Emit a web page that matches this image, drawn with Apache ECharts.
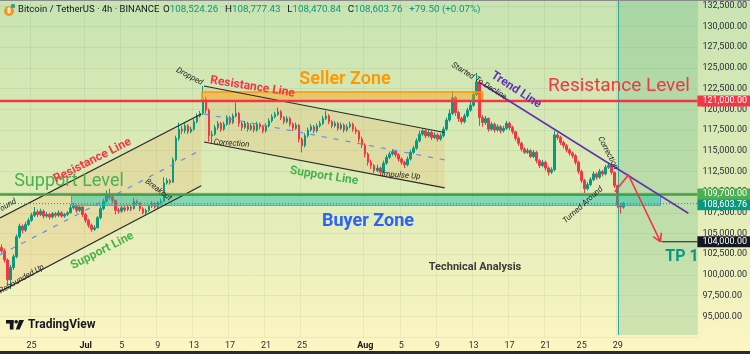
<!DOCTYPE html>
<html>
<head>
<meta charset="utf-8">
<title>Bitcoin / TetherUS 4h</title>
<script src="https://cdn.jsdelivr.net/npm/echarts@6/dist/echarts.min.js"></script>
<style>
html, body { margin: 0; padding: 0; }
body {
    width: 750px; height: 354px; overflow: hidden;
    background: linear-gradient(to bottom, #c8e4b2 0%, #dfecb7 55%, #fdf6c3 100%);
}
#main { width: 750px; height: 354px; }
</style>
</head>
<body>
<div id="main"></div>
<script type="text/javascript">
// 8h candles, Jun 21 16:00 -> Aug 29, prices in thousands USDT (open = previous close)
var firstOpen = 103.3;
var closes = [
    102.9,101.8,99.4,100.9,102.2,104.6,105.9,105.4,106.1,106.6,
    107.2,107.6,107.3,107.7,107.1,107.3,107.0,107.4,107.2,107.5,
    107.1,107.3,107.5,108.1,108.3,107.8,108.2,107.3,106.6,106.0,
    105.5,105.7,106.9,108.0,108.9,109.6,109.4,109.0,107.8,107.7,
    108.1,107.9,108.2,108.0,108.9,108.7,108.0,107.5,107.8,108.3,
    108.6,108.2,108.7,108.9,111.1,111.4,111.2,113.9,116.5,117.6,
    117.4,118.0,117.3,117.6,118.5,119.2,119.5,121.2,119.9,116.8,
    117.0,117.8,118.3,117.6,118.2,119.0,118.4,119.2,119.5,118.3,
    117.8,118.3,117.6,118.0,117.5,118.2,117.9,117.4,118.0,118.6,
    119.1,119.4,119.7,119.0,118.5,118.9,118.2,117.7,118.1,116.4,
    115.6,116.8,117.5,117.9,117.4,118.0,118.3,118.9,119.2,118.5,
    118.0,118.3,117.7,118.1,117.5,117.9,118.2,117.6,117.3,116.4,
    115.7,114.6,113.6,113.2,112.6,112.9,112.4,113.5,114.2,114.6,
    114.9,114.5,114.0,113.6,113.3,114.0,114.8,115.3,116.2,117.0,
    117.4,116.8,117.2,116.6,116.9,116.4,116.8,117.6,118.7,119.5,
    121.4,119.6,118.9,118.5,119.2,119.9,120.5,121.8,123.3,119.0,
    118.4,118.9,117.6,118.2,117.5,117.9,117.4,117.7,118.3,117.8,
    117.3,116.5,115.9,115.2,114.8,115.0,114.3,114.8,113.8,113.2,
    113.6,112.9,112.4,112.7,116.9,116.6,116.0,115.6,115.1,114.7,
    114.4,113.6,112.5,111.4,110.4,110.9,111.5,112.2,111.8,112.5,
    112.2,113.0,113.2,112.4,110.8,108.4,108.2,108.6
];
var highs = [
    103.7,103.2,102.0,101.2,102.5,104.9,106.2,106.1,106.4,106.9,
    107.5,108.2,107.9,108.0,107.9,107.6,107.5,107.6,107.6,107.8,
    107.7,107.5,107.7,108.5,108.7,108.5,108.4,108.3,107.5,106.8,
    106.2,106.0,107.1,108.3,109.2,110.2,110.4,109.7,109.1,108.1,
    108.4,108.3,108.5,108.4,109.3,109.1,108.8,108.2,108.0,108.5,
    108.9,108.8,108.9,109.2,111.8,111.7,111.6,114.2,116.8,118.4,
    118.0,118.3,118.2,117.9,118.8,119.5,119.8,122.8,121.5,120.1,
    117.4,118.1,118.6,118.5,118.5,119.3,119.2,119.5,120.8,119.7,
    118.5,118.6,118.5,118.3,118.2,118.5,118.4,118.1,118.3,118.9,
    119.4,119.7,120.2,119.9,119.2,119.2,119.1,118.4,118.4,118.2,
    116.6,117.1,117.8,118.2,118.1,118.3,118.6,119.2,119.8,119.4,
    118.7,118.6,118.5,118.4,118.3,118.2,118.5,118.4,117.9,117.5,
    116.7,115.9,114.8,113.9,113.4,113.3,113.1,113.8,114.5,114.9,
    115.2,115.1,114.7,114.2,113.8,114.3,115.1,115.6,116.5,117.4,
    117.7,117.6,117.5,117.4,117.2,117.1,117.1,117.9,119.0,120.0,
    122.2,121.6,119.8,119.1,119.5,120.2,120.9,122.2,124.4,123.6,
    119.3,119.2,119.0,118.5,118.4,118.2,118.1,118.0,118.6,118.5,
    118.0,117.4,116.7,116.1,115.4,115.3,115.2,115.1,115.0,114.0,
    113.9,113.8,113.1,113.0,117.4,117.2,116.8,116.2,115.8,115.3,
    114.9,114.6,113.8,112.7,111.6,111.2,111.8,112.5,112.4,112.8,
    112.7,113.3,113.6,113.4,112.5,110.9,108.7,108.8
];
var lows = [
    102.6,101.5,99.0,98.3,100.6,102.0,104.4,105.0,105.2,105.9,
    106.4,107.0,107.0,107.1,106.8,106.9,106.7,106.8,106.9,107.0,
    106.9,106.9,107.1,107.4,107.9,107.5,107.6,107.0,106.3,105.7,
    105.2,105.3,105.6,106.7,107.8,108.7,109.1,108.6,107.3,107.4,
    107.5,107.6,107.7,107.7,107.9,108.4,107.7,107.3,107.3,107.6,
    108.1,108.0,108.0,108.5,108.8,110.9,110.9,111.1,113.7,116.2,
    117.0,117.1,117.0,117.1,117.4,118.3,119.0,119.3,119.5,116.1,
    115.9,116.8,117.5,117.3,117.4,118.0,118.1,118.2,119.0,117.9,
    117.4,117.6,117.3,117.4,117.2,117.3,117.6,117.1,117.2,117.8,
    118.4,118.9,119.2,118.7,118.2,118.3,117.9,117.4,117.5,116.0,
    114.8,115.4,116.6,117.3,117.1,117.2,117.8,118.1,118.7,118.2,
    117.7,117.8,117.4,117.5,117.2,117.3,117.7,117.3,117.0,116.0,
    115.3,114.2,113.2,112.8,112.3,112.4,112.0,112.3,113.3,114.0,
    114.4,114.2,113.7,113.3,112.9,113.1,113.8,114.6,115.1,116.0,
    116.8,116.5,116.6,116.3,116.4,116.1,116.2,116.6,117.4,118.5,
    119.3,119.2,118.5,118.2,118.3,119.0,119.7,120.3,121.6,118.0,
    117.9,118.1,117.3,117.4,117.2,117.3,117.1,117.2,117.5,117.5,
    117.0,116.2,115.6,114.9,114.6,114.6,114.1,114.1,113.5,112.9,
    113.0,112.6,112.0,112.2,112.5,116.3,115.7,115.3,114.8,114.4,
    114.1,113.3,112.2,111.1,109.9,110.2,110.7,111.3,111.5,111.6,
    111.9,112.0,112.8,112.1,110.5,108.1,107.4,108.0
];

// time axis: 8h slots (chart runs on into empty future slots)
var slotCount = 232;
var tickSlots  = [10, 28, 40, 52, 64, 76, 88, 100, 121, 133, 145, 157, 169, 181, 193, 205];
var tickLabels = ['25', 'Jul', '5', '9', '13', '17', '21', '25', 'Aug', '5', '9', '13', '17', '21', '25', '29'];

// price levels
var resistanceLevel = 121000;
var supportLevel = 109700;
var lastPrice = 108603.76;
var targetPrice = 104000;
var sellerZone = [121000, 122100];
var buyerZone = [108400, 109600];
var yMin = 92500, yMax = 133200, yStep = 2500;

// drawings, as [slot, price]
var risingUpper = [[-0.5, 106870], [66.45, 119430]];
var risingLower = [[-0.5, 97970], [66.45, 110770]];
var risingMid   = [[-0.5, 102420], [66.45, 115100]];
var fallingUpper = [[67.35, 122810], [147.43, 117200]];
var fallingLower = [[67.35, 116050], [147.43, 110500]];
var fallingMid   = [[67.35, 119430], [147.43, 113880]];
var sellerSlots = [66.7, 160.0];
var buyerSlots = [23.3, 219.25];
var trendLine = [[159.35, 123180], [228.5, 107440]];
var projection = [[204.0, 110050], [208.56, 112070], [219.25, 104000]];
var targetFrom = 219.6;
var nowSlot = 205.25;

(function () {
    var FONT = 'Roboto, "Noto Sans", sans-serif';

    function money(v) {
        return v.toLocaleString('en-US', { minimumFractionDigits: 2, maximumFractionDigits: 2 });
    }

    var categories = [];
    for (var i = 0; i < slotCount; i++) categories.push(String(i));

    var candles = closes.map(function (c, i) {
        var o = i ? closes[i - 1] : firstOpen;
        return [o * 1000, c * 1000, lows[i] * 1000, highs[i] * 1000];
    });

    var chart = echarts.init(document.getElementById('main'));
    chart.setOption({
        animation: false,
        grid: { left: 0, right: 49, top: 0, bottom: 17 },
        xAxis: {
            type: 'category',
            data: categories,
            boundaryGap: true,
            axisLine: { show: false },
            axisTick: { show: false },
            axisLabel: {
                interval: function (idx) { return tickSlots.indexOf(idx) >= 0; },
                formatter: function (v, idx) {
                    var t = tickLabels[tickSlots.indexOf(idx)];
                    return (t === 'Jul' || t === 'Aug') ? '{b|' + t + '}' : t;
                },
                color: '#2a2e39', fontSize: 9, fontFamily: FONT, margin: 4,
                rich: { b: { fontWeight: 'bold', fontSize: 9, color: '#131722', fontFamily: FONT } }
            },
            splitLine: {
                show: true,
                interval: function (idx) { return tickSlots.indexOf(idx) >= 0; },
                lineStyle: { color: 'rgba(0,0,0,0.05)', width: 1 }
            }
        },
        yAxis: {
            type: 'value',
            position: 'right',
            min: yMin, max: yMax, interval: yStep,
            axisLine: { show: false },
            axisTick: { show: false },
            axisLabel: {
                showMinLabel: false, showMaxLabel: false,
                color: '#2a2e39', fontSize: 9, fontFamily: FONT, margin: 5,
                formatter: money
            },
            splitLine: { lineStyle: { color: 'rgba(0,0,0,0.05)', width: 1 } }
        },
        series: [{
            type: 'candlestick',
            data: candles,
            barWidth: 2,
            z: 2,
            itemStyle: {
                color: '#089981', color0: '#f23645',
                borderColor: '#089981', borderColor0: '#f23645', borderWidth: 1
            }
        }]
    });

    // drawings on top of the chart, placed through the chart's own axes
    var gx0 = chart.convertToPixel({ xAxisIndex: 0 }, 0);
    var gx1 = chart.convertToPixel({ xAxisIndex: 0 }, slotCount - 1);
    function sx(slot) { return gx0 + slot * (gx1 - gx0) / (slotCount - 1); }
    function py(price) { return chart.convertToPixel({ yAxisIndex: 0 }, price); }
    function P(pt) { return [sx(pt[0]), py(pt[1])]; }

    var gLeft = sx(-0.5), gRight = sx(slotCount - 0.5);
    var gTop = py(yMax), gBottom = py(yMin);

    function poly(points, stroke, width, dash, z) {
        var st = { stroke: stroke, lineWidth: width, fill: 'none' };
        if (dash) st.lineDash = dash;
        return { type: 'polyline', z: z || 4, shape: { points: points.map(P) }, style: st };
    }
    function hline(price, x1, x2, stroke, width, dash) {
        var y = py(price);
        var st = { stroke: stroke, lineWidth: width };
        if (dash) st.lineDash = dash;
        return { type: 'line', z: 4, shape: { x1: x1, y1: y, x2: x2, y2: y }, style: st };
    }
    function note(t, x, y, font, fill, rot) {
        return { type: 'text', z: 6, x: x, y: y, rotation: (rot || 0) * Math.PI / 180,
                 style: { text: t, font: font, fill: fill, align: 'center', verticalAlign: 'middle' } };
    }
    function tag(price, bg, shift) {
        var y = py(price) + (shift || 0);
        return [
            { type: 'rect', z: 10, shape: { x: gRight, y: y - 5.5, width: 750 - gRight, height: 11 }, style: { fill: bg } },
            { type: 'text', z: 11, x: gRight + 5, y: y,
              style: { text: money(price), font: '9px ' + FONT, fill: '#ffffff', verticalAlign: 'middle' } }
        ];
    }

    var els = [];
    // future zone + "now" line
    els.push({ type: 'rect', z: 1, shape: { x: sx(nowSlot), y: gTop, width: gRight - sx(nowSlot), height: gBottom - gTop - 2 },
               style: { fill: 'rgba(60,170,120,0.22)' } });
    els.push({ type: 'line', z: 4, shape: { x1: sx(nowSlot), y1: gTop, x2: sx(nowSlot), y2: gBottom - 2 },
               style: { stroke: '#26a69a', lineWidth: 1 } });

    // channels
    els.push({ type: 'polygon', z: 1, shape: { points: [P(risingUpper[0]), P(risingUpper[1]), P(risingLower[1]), P(risingLower[0])] },
               style: { fill: 'rgba(240,150,60,0.16)' } });
    els.push({ type: 'polygon', z: 1, shape: { points: [P(fallingUpper[0]), P(fallingUpper[1]), P(fallingLower[1]), P(fallingLower[0])] },
               style: { fill: 'rgba(240,150,60,0.16)' } });
    [risingUpper, risingLower, fallingUpper, fallingLower].forEach(function (l) { els.push(poly(l, '#2b2b2b', 1.2)); });
    [risingMid, fallingMid].forEach(function (l) { els.push(poly(l, '#5c8ff0', 1.2, [5, 7])); });

    // zones
    var sTop = py(sellerZone[1]), sBot = py(sellerZone[0]);
    els.push({ type: 'rect', z: 3, shape: { x: sx(sellerSlots[0]), y: sTop, width: sx(sellerSlots[1]) - sx(sellerSlots[0]), height: sBot - sTop },
               style: { fill: 'rgba(255,160,20,0.45)', stroke: '#ff9800', lineWidth: 1.5 } });
    var bTop = py(buyerZone[1]), bBot = py(buyerZone[0]);
    els.push({ type: 'rect', z: 3, shape: { x: sx(buyerSlots[0]), y: bTop, width: sx(buyerSlots[1]) - sx(buyerSlots[0]), height: bBot - bTop },
               style: { fill: 'rgba(0,190,170,0.42)', stroke: '#5b8def', lineWidth: 1 } });

    // levels
    els.push(hline(resistanceLevel, gLeft, gRight, '#f23645', 2.5));
    els.push(hline(supportLevel, gLeft, gRight, '#43a047', 2.5));
    els.push(hline(lastPrice, gLeft, gRight, '#089981', 1, [1, 2]));
    els.push(hline(targetPrice, sx(targetFrom), gRight, '#131722', 1));

    // trend line and projected path
    els.push(poly(trendLine, '#5e35b1', 1.6));
    els.push(poly(projection, '#f23645', 1.6, null, 5));
    var tip = P(projection[2]), prev = P(projection[1]);
    var dx = prev[0] - tip[0], dy = prev[1] - tip[1], len = Math.sqrt(dx * dx + dy * dy);
    dx /= len; dy /= len;
    [Math.PI / 6, -Math.PI / 6].forEach(function (a) {
        var wx = dx * Math.cos(a) - dy * Math.sin(a), wy = dx * Math.sin(a) + dy * Math.cos(a);
        els.push({ type: 'line', z: 5, shape: { x1: tip[0], y1: tip[1], x2: tip[0] + wx * 9, y2: tip[1] + wy * 9 },
                   style: { stroke: '#f23645', lineWidth: 1.6 } });
    });

    // big labels
    els.push(note('Seller Zone', 345, 79, '600 18px ' + FONT, '#ff9800'));
    els.push(note('Buyer Zone', 368, 221.5, 'bold 18px ' + FONT, '#2962ff'));
    els.push(note('Support Level', 69, 181, '18px ' + FONT, '#4caf50'));
    els.push(note('Resistance Level', 619, 86, '19px ' + FONT, '#f23645'));
    els.push(note('TP 1', 682, 256.5, 'bold 16px ' + FONT, '#089981'));
    els.push(note('Technical Analysis', 475, 267, 'bold 11px ' + FONT, '#3b3b3b'));
    // channel / trend labels
    els.push(note('Resistance Line', 92.5, 160.5, 'bold 12px ' + FONT, '#f23645', 27));
    els.push(note('Support Line', 102.3, 250.8, 'bold 12px ' + FONT, '#4caf50', 27));
    els.push(note('Resistance Line', 252.5, 87, 'bold 12px ' + FONT, '#f23645', -9));
    els.push(note('Support Line', 324, 176, 'bold 12px ' + FONT, '#4caf50', -9));
    els.push(note('Trend Line', 516, 90, 'bold 12px ' + FONT, '#5e35b1', -33));
    // small notes
    var small = 'italic 8px ' + FONT, smallC = '#1e1e1e';
    els.push(note('Around', 5, 207, small, smallC, 30));
    els.push(note('Rebounded Up', 21.7, 279.2, small, smallC, 30));
    els.push(note('Breakout', 158.3, 190, small, smallC, -37));
    els.push(note('Dropped', 189.5, 76.5, small, smallC, -28));
    els.push(note('Correction', 231.5, 143.5, small, smallC, -4));
    els.push(note('Impulse Up', 401, 175.5, small, smallC, -4));
    els.push(note('Started To Decline', 479, 81, small, smallC, -32));
    els.push(note('Correction', 608, 153, small, smallC, -63));
    els.push(note('Turned Around', 583, 205, small, smallC, 42));

    // price tags on the axis
    els = els.concat(tag(resistanceLevel, '#f23645'), tag(supportLevel, '#4caf50', -0.5),
                     tag(lastPrice, '#089981', 1), tag(targetPrice, '#131722'));

    // header
    els.push({ type: 'circle', z: 6, shape: { cx: 9, cy: 11, r: 5 }, style: { fill: '#f7931a' } });
    els.push({ type: 'text', z: 7, x: 9, y: 11, style: { text: '\u20bf', font: 'bold 7px ' + FONT, fill: '#fff', align: 'center', verticalAlign: 'middle' } });
    els.push({ type: 'rect', z: 7, shape: { x: 11, y: 4, width: 4, height: 4, r: 1 }, style: { fill: '#26a69a' } });
    els.push({ type: 'text', z: 6, x: 18, y: 10,
               style: { text: 'Bitcoin / TetherUS \u00b7 4h \u00b7 BINANCE', font: '9.5px ' + FONT, fill: '#131722', verticalAlign: 'middle' } });
    els.push({ type: 'text', z: 6, x: 163, y: 10,
               style: { text: '{k|O}{v|108,524.26}  {k|H}{v|108,777.43}  {k|L}{v|108,470.84}  {k|C}{v|108,603.76}  {v|+79.50 (+0.07%)}',
                        verticalAlign: 'middle',
                        rich: { k: { fontSize: 9.8, fontFamily: FONT, fill: '#131722' }, v: { fontSize: 9.8, fontFamily: FONT, fill: '#089981' } } } });

    // TradingView mark
    els.push({ type: 'rect', z: 6, shape: { x: 6, y: 320, width: 7.5, height: 3.6 }, style: { fill: '#131722' } });
    els.push({ type: 'rect', z: 6, shape: { x: 9.8, y: 320, width: 3.7, height: 9.5 }, style: { fill: '#131722' } });
    els.push({ type: 'circle', z: 6, shape: { cx: 16.2, cy: 321.8, r: 1.8 }, style: { fill: '#131722' } });
    els.push({ type: 'polygon', z: 6, shape: { points: [[19.2, 320], [24, 320], [19.6, 329.5], [15.8, 329.5]] }, style: { fill: '#131722' } });
    els.push({ type: 'text', z: 6, x: 28, y: 325, style: { text: 'TradingView', font: 'bold 12px ' + FONT, fill: '#131722', verticalAlign: 'middle' } });

    // frame edges
    els.push({ type: 'rect', z: 12, shape: { x: 0, y: 351, width: 750, height: 3 }, style: { fill: '#2b2b2b' } });
    els.push({ type: 'rect', z: 12, shape: { x: 0, y: 0, width: 750, height: 1 }, style: { fill: '#8a8a8a' } });

    chart.setOption({ graphic: { elements: els } });
})();
</script>
</body>
</html>
